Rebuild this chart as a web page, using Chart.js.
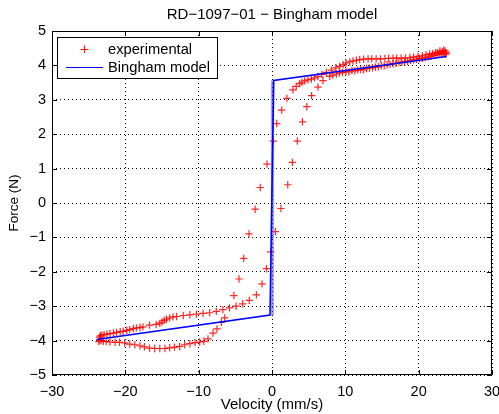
<!DOCTYPE html>
<html>
<head>
<meta charset="utf-8">
<script src="https://cdn.jsdelivr.net/npm/chart.js@4/dist/chart.umd.min.js"></script>
<style>
  html, body { margin: 0; padding: 0; background: #fff; }
  #wrap { width: 499px; height: 414px; }
</style>
</head>
<body>
<div id="wrap"><canvas id="c" width="499" height="414"></canvas></div>
<script>
// Figure text
const chartTitle = 'RD\u22121097\u221201 \u2212 Bingham model';
const xAxisLabel = 'Velocity (mm/s)';
const yAxisLabel = 'Force (N)';
const legendLabels = ['experimental', 'Bingham model'];

// Axis ticks
const xTicks = [-30, -20, -10, 0, 10, 20, 30];
const yTicks = [-5, -4, -3, -2, -1, 0, 1, 2, 3, 4, 5];

// Measured loop, rising-velocity branch (mm/s, N)
const risingVelocity = [
  -23.5, -23.4, -23.2, -22.9, -22.5, -22.1, -21.6, -21.2, -20.7, -20.3,
  -19.8, -19.4, -18.9, -18.5, -18.0, -17.6, -16.7, -15.8, -15.3, -15.0,
  -14.7, -14.4, -13.95, -13.5, -13.0, -12.1, -11.2, -10.3, -9.4, -8.5,
  -7.6, -6.7, -5.8, -4.9, -4.0, -3.1, -2.13, -1.36, -0.76, -0.18,
  0.46, 1.22, 2.15, 2.78, 3.46, 4.16, 4.75, 5.4, 6.27, 6.95,
  7.87, 8.3, 8.78, 9.2, 9.6, 10.1, 10.5, 10.9, 11.3, 11.7,
  12.1, 12.5, 12.9, 13.3, 13.7, 14.1, 14.5, 14.9, 15.3, 15.7,
  16.1, 16.5, 16.9, 17.3, 17.7, 18.1, 18.5, 18.9, 19.3, 19.7,
  20.1, 20.5, 20.9, 21.3, 21.7, 22.1, 22.5, 22.8, 23.1, 23.35,
  23.55, 23.7
];
const risingForce = [
  -3.9, -3.86, -3.84, -3.83, -3.81, -3.8, -3.78, -3.76, -3.74, -3.73,
  -3.7, -3.68, -3.65, -3.63, -3.62, -3.6, -3.55, -3.53, -3.5, -3.46,
  -3.41, -3.38, -3.34, -3.31, -3.3, -3.27, -3.25, -3.23, -3.21, -3.19,
  -3.15, -3.1, -3.05, -3.0, -2.93, -2.83, -2.67, -2.35, -1.91, -1.42,
  -0.83, -0.16, 0.53, 1.18, 1.8, 2.36, 2.8, 3.12, 3.37, 3.56,
  3.68, 3.72, 3.75, 3.78, 3.79, 3.82, 3.81, 3.85, 3.84, 3.87,
  3.88, 3.87, 3.91, 3.92, 3.93, 3.95, 3.96, 3.99, 3.99, 4.02,
  4.03, 4.05, 4.06, 4.08, 4.09, 4.11, 4.12, 4.15, 4.16, 4.18,
  4.2, 4.21, 4.23, 4.25, 4.27, 4.29, 4.31, 4.33, 4.34, 4.36,
  4.35, 4.33
];

// Measured loop, falling-velocity branch (mm/s, N)
const fallingVelocity = [
  23.75, 23.6, 23.4, 23.2, 22.9, 22.6, 22.3, 21.9, 21.5, 21.0,
  20.5, 19.9, 19.3, 18.8, 18.2, 17.6, 17.0, 16.5, 15.9, 15.4,
  14.8, 14.2, 13.6, 13.1, 12.5, 11.96, 11.5, 11.05, 10.6, 10.1,
  9.7, 9.23, 8.7, 8.1, 7.4, 6.8, 6.27, 5.8, 5.37, 4.9,
  4.46, 4.1, 3.78, 3.3, 2.86, 2.03, 1.32, 0.64, 0.17, -0.68,
  -1.6, -2.3, -3.14, -3.86, -4.5, -5.2, -6.45, -6.9, -7.5, -8.05,
  -8.73, -9.3, -9.86, -10.5, -11.2, -11.9, -12.6, -13.3, -13.95, -14.6,
  -15.3, -16.0, -16.7, -17.4, -18.0, -18.7, -19.4, -20.1, -20.8, -21.4,
  -22.1, -22.6, -23.0, -23.3, -23.5, -23.6
];
const fallingForce = [
  4.37, 4.42, 4.44, 4.4, 4.42, 4.38, 4.37, 4.34, 4.33, 4.31,
  4.28, 4.26, 4.24, 4.23, 4.22, 4.21, 4.21, 4.21, 4.2, 4.2,
  4.19, 4.19, 4.19, 4.19, 4.18, 4.17, 4.15, 4.13, 4.1, 4.07,
  4.02, 3.97, 3.93, 3.86, 3.8, 3.74, 3.68, 3.64, 3.6, 3.58,
  3.55, 3.51, 3.47, 3.39, 3.29, 3.04, 2.7, 2.31, 1.8, 1.13,
  0.45, -0.18, -0.9, -1.61, -2.21, -2.69, -3.34, -3.47, -3.66, -3.78,
  -3.95, -4.02, -4.04, -4.06, -4.09, -4.12, -4.17, -4.19, -4.21, -4.23,
  -4.23, -4.23, -4.22, -4.18, -4.15, -4.12, -4.1, -4.07, -4.05, -4.05,
  -4.04, -4.03, -4.02, -4.0, -3.98, -4.03
];

// Bingham model evaluated at the measured velocities
const modelVelocity = [-23.9, -0.27, 0.23, 23.8];
const modelForce = [-3.97, -3.26, 3.56, 4.26];
// Second pass of the model through zero velocity
const modelReturnVelocity = [0.1, 0.05];
const modelReturnForce = [3.56, -3.26];

const toPoints = (xs, ys) => xs.map((x, i) => ({ x: x, y: ys[i] }));
const signed = v => (v < 0 ? '\u2212' + Math.abs(v) : String(v));

const FONT = '"Liberation Sans", Arial, Helvetica, sans-serif';

// Title, axes box, inward ticks and legend box
const decorations = {
  id: 'decorations',
  afterDraw(chart) {
    const { ctx, chartArea: a, scales } = chart;
    const xs = scales.x, ys = scales.y;
    ctx.save();
    ctx.strokeStyle = '#000';
    ctx.lineWidth = 1;
    ctx.beginPath();
    ctx.rect(Math.round(a.left) + 0.5, Math.round(a.top) + 0.5,
             Math.round(a.right - a.left) - 1, Math.round(a.bottom - a.top) - 1);
    ctx.stroke();
    const tl = 5;
    ctx.beginPath();
    xTicks.forEach(v => {
      const p = Math.round(xs.getPixelForValue(v)) + 0.5;
      ctx.moveTo(p, a.bottom); ctx.lineTo(p, a.bottom - tl);
      ctx.moveTo(p, a.top); ctx.lineTo(p, a.top + tl);
    });
    yTicks.forEach(v => {
      const p = Math.round(ys.getPixelForValue(v)) + 0.5;
      ctx.moveTo(a.left, p); ctx.lineTo(a.left + tl, p);
      ctx.moveTo(a.right, p); ctx.lineTo(a.right - tl, p);
    });
    ctx.stroke();

    // title
    ctx.fillStyle = '#000';
    ctx.font = '15px ' + FONT;
    ctx.textAlign = 'center';
    ctx.textBaseline = 'middle';
    ctx.fillText(chartTitle, (a.left + a.right) / 2, 15);

    // legend
    const bx = 57.5, by = 37.5, bw = 160, bh = 41;
    ctx.fillStyle = '#fff';
    ctx.fillRect(bx, by, bw, bh);
    ctx.strokeStyle = '#000';
    ctx.strokeRect(bx, by, bw, bh);
    ctx.strokeStyle = 'rgba(255,0,0,0.9)';
    ctx.lineWidth = 1.2;
    ctx.beginPath();
    ctx.moveTo(84.5, 45.5); ctx.lineTo(84.5, 53);
    ctx.moveTo(80.5, 49.5); ctx.lineTo(88.5, 49.5);
    ctx.stroke();
    ctx.strokeStyle = '#0000ff';
    ctx.lineWidth = 1;
    ctx.beginPath();
    ctx.moveTo(66, 67.5); ctx.lineTo(103, 67.5);
    ctx.stroke();
    ctx.fillStyle = '#000';
    ctx.font = '14.7px ' + FONT;
    ctx.textAlign = 'left';
    ctx.fillText(legendLabels[0], 108, 50);
    ctx.fillText(legendLabels[1], 108, 68);
    ctx.restore();
  }
};

new Chart(document.getElementById('c'), {
  type: 'scatter',
  data: {
    datasets: [
      {
        label: legendLabels[1],
        data: toPoints(modelVelocity, modelForce),
        showLine: true,
        borderColor: '#0000ff',
        borderWidth: 1.6,
        pointRadius: 0,
        order: 0
      },
      {
        label: legendLabels[1] + ' (return)',
        data: toPoints(modelReturnVelocity, modelReturnForce),
        showLine: true,
        borderColor: 'rgba(80,80,255,0.55)',
        borderWidth: 3,
        pointRadius: 0,
        order: 1
      },
      {
        label: legendLabels[0],
        data: toPoints(risingVelocity.concat(fallingVelocity), risingForce.concat(fallingForce)),
        showLine: false,
        pointStyle: 'cross',
        pointRadius: 3.7,
        pointBorderWidth: 1.2,
        pointBorderColor: 'rgba(255,0,0,0.85)',
        pointBackgroundColor: 'rgba(255,0,0,0.85)',
        order: 2
      }
    ]
  },
  options: {
    responsive: false,
    animation: false,
    devicePixelRatio: 1,
    layout: { padding: { top: 31, right: 7, left: 0, bottom: 0 } },
    plugins: {
      legend: { display: false },
      title: { display: false },
      tooltip: { enabled: false }
    },
    scales: {
      x: {
        type: 'linear',
        min: -30, max: 30,
        afterBuildTicks: s => { s.ticks = xTicks.map(v => ({ value: v })); },
        afterFit: s => { s.height = 39; s.paddingLeft = 0; s.paddingRight = 0; },
        ticks: { callback: v => signed(v), color: '#000', padding: 8, font: { family: FONT, size: 14.5 } },
        grid: { color: '#000', lineWidth: 1, drawTicks: false },
        border: { display: false, dash: [1, 3] },
        title: { display: true, text: xAxisLabel, color: '#000', padding: { top: 0, bottom: 0 }, font: { family: FONT, size: 15 } }
      },
      y: {
        type: 'linear',
        min: -5, max: 5,
        afterBuildTicks: s => { s.ticks = yTicks.map(v => ({ value: v })); },
        afterFit: s => { s.width = 52; s.paddingTop = 0; s.paddingBottom = 0; },
        ticks: { callback: v => signed(v), color: '#000', padding: 6, font: { family: FONT, size: 14.5 } },
        grid: { color: '#000', lineWidth: 1, drawTicks: false },
        border: { display: false, dash: [1, 3] },
        title: { display: true, text: yAxisLabel, color: '#000', padding: { top: 6, bottom: 0 }, font: { family: FONT, size: 13.5 } }
      }
    }
  },
  plugins: [decorations]
});
</script>
</body>
</html>
